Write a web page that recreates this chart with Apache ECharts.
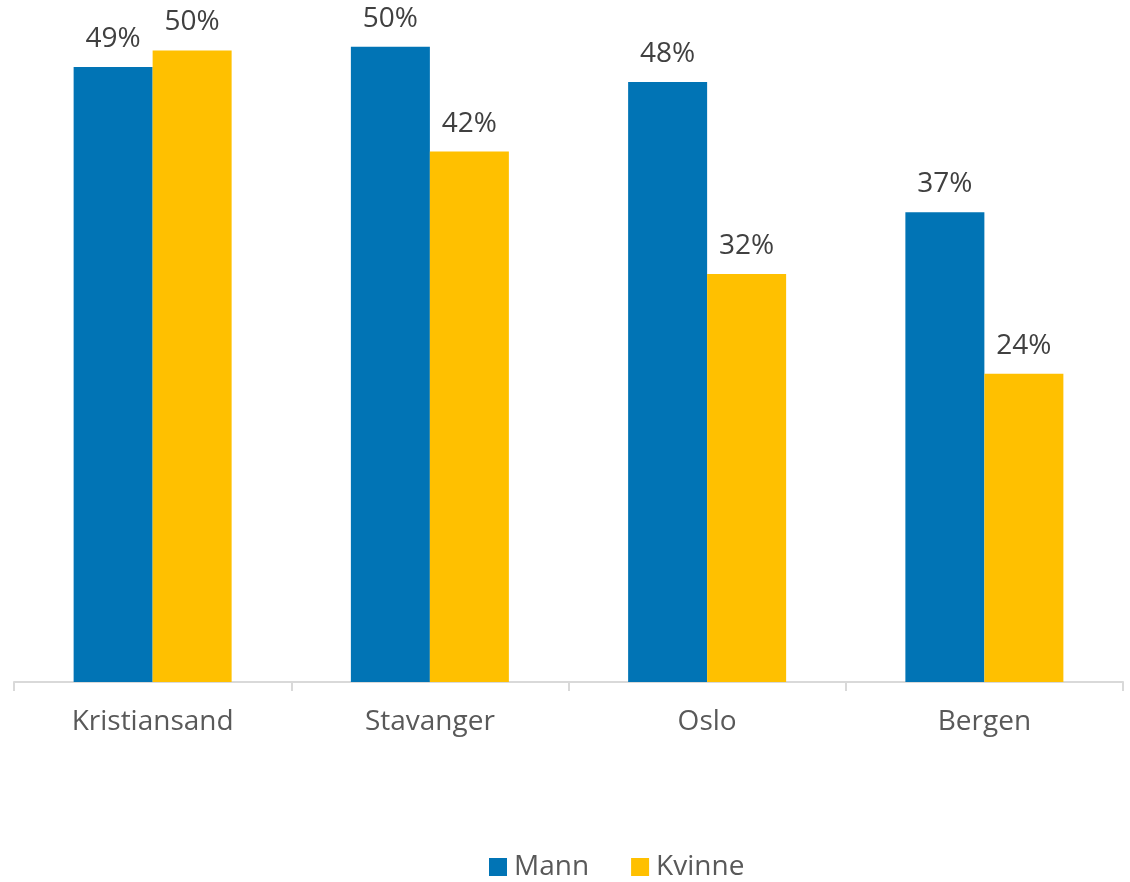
<!DOCTYPE html>
<html>
<head>
<meta charset="utf-8">
<script src="https://cdn.jsdelivr.net/npm/echarts@6/dist/echarts.min.js"></script>
<style>
  html, body { margin: 0; padding: 0; background: #fff; }
  #chart { width: 1130px; height: 882px; }
</style>
</head>
<body>
<div id="chart"></div>
<script>
const categories = ['Kristiansand', 'Stavanger', 'Oslo', 'Bergen'];
const seriesNames = ['Mann', 'Kvinne'];
const mannValues = [48.7, 50.3, 47.5, 37.2];
const kvinneValues = [50.0, 42.0, 32.3, 24.4];
const colors = ['#0174B5', '#FFC000'];

const font = '"Open Sans", "Noto Sans", sans-serif';
const chart = echarts.init(document.getElementById('chart'));

const label = {
    show: true,
    position: 'top',
    distance: 14,
    color: '#404040',
    fontSize: 28,
    fontFamily: font,
    formatter: (p) => Math.round(p.value) + '%',
};

chart.setOption({
    animation: false,
    color: colors,
    grid: { left: 14, right: 7, top: 0, bottom: 200 },
    legend: {
        left: 484,
        bottom: -4,
        itemWidth: 18,
        itemHeight: 18,
        itemGap: 42,
        icon: 'rect',
        textStyle: { color: '#595959', fontSize: 28, fontFamily: font, padding: [0, 0, 0, 2] },
        data: seriesNames,
    },
    xAxis: {
        type: 'category',
        data: categories,
        axisLine: { lineStyle: { color: '#D9D9D9', width: 2 } },
        axisTick: { show: true, length: 9, lineStyle: { color: '#D9D9D9', width: 2 } },
        axisLabel: { color: '#595959', fontSize: 28, fontFamily: font, margin: 26 },
    },
    yAxis: {
        type: 'value',
        min: 0,
        max: 54,
        show: false,
        splitLine: { show: false },
    },
    series: [
        { name: seriesNames[0], type: 'bar', data: mannValues, barWidth: 79, barGap: '0%', label },
        { name: seriesNames[1], type: 'bar', data: kvinneValues, barWidth: 79, barGap: '0%', label },
    ],
});
</script>
</body>
</html>
